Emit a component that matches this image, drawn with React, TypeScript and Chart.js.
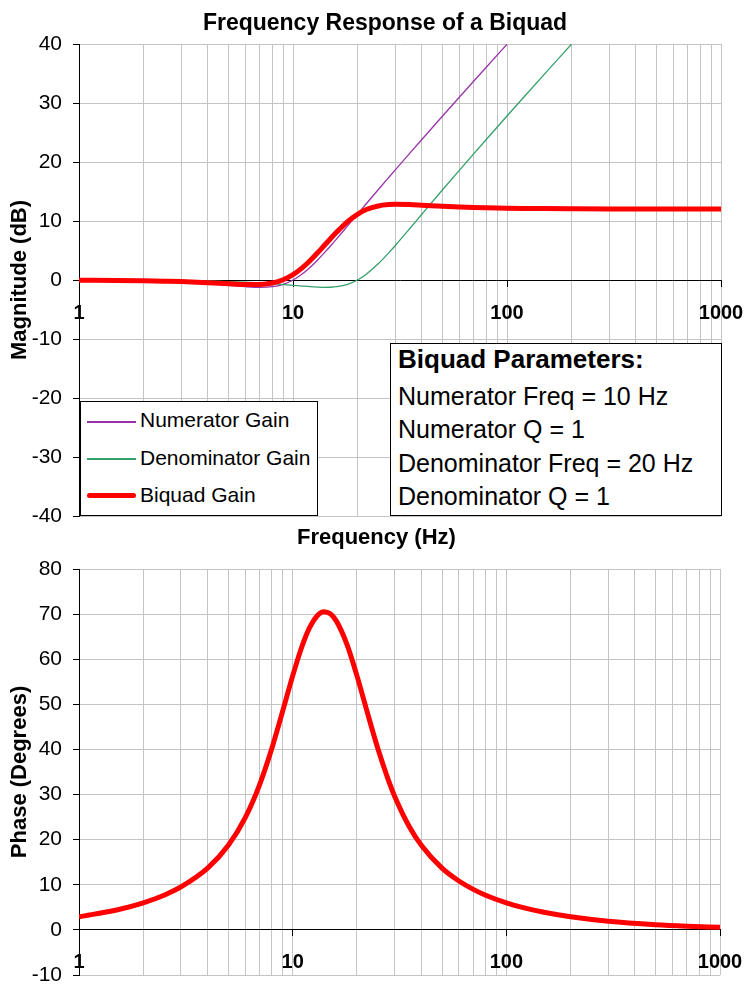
import React, { useEffect, useRef } from "react";
import { Chart, registerables } from "chart.js";

Chart.register(...registerables);

const FONT = "'Liberation Sans', Arial, Helvetica, sans-serif";

// ---- data ----
const frequencies = [1, 1.5, 2, 2.5, 3, 4, 5, 6, 7, 8, 9, 10, 11, 12, 13, 14, 15, 16, 18, 20, 22, 25, 28, 30, 35, 40, 50, 60, 70, 80, 100, 120, 150, 200, 300, 500, 700, 1000];

const numeratorGain = [-0.04, -0.1, -0.17, -0.26, -0.37, -0.63, -0.9, -1.14, -1.25, -1.14, -0.73, 0, 0.98, 2.13, 3.36, 4.6, 5.81, 6.98, 9.17, 11.14, 12.92, 15.29, 17.37, 18.63, 21.42, 23.82, 27.79, 31.01, 33.72, 36.06, 39.96, null, null, null, null, null, null, null];

const denominatorGain = [-0.01, -0.02, -0.04, -0.07, -0.1, -0.17, -0.26, -0.37, -0.49, -0.63, -0.77, -0.9, -1.03, -1.14, -1.21, -1.25, -1.23, -1.14, -0.73, 0, 0.98, 2.74, 4.6, 5.81, 8.64, 11.14, 15.29, 18.63, 21.42, 23.82, 27.79, 31.01, 34.93, 39.96, null, null, null, null];

const biquadGain = [-0.03, -0.07, -0.13, -0.2, -0.27, -0.46, -0.64, -0.77, -0.76, -0.51, 0.04, 0.9, 2.01, 3.27, 4.57, 5.85, 7.04, 8.12, 9.9, 11.14, 11.94, 12.55, 12.78, 12.82, 12.78, 12.68, 12.5, 12.37, 12.29, 12.24, 12.17, 12.13, 12.1, 12.07, 12.05, 12.05, 12.04, 12.04];

const biquadPhase = [2.9, 4.41, 6, 7.69, 9.53, 13.69, 18.76, 24.9, 32.17, 40.31, 48.65, 56.31, 62.55, 66.99, 69.57, 70.52, 70.07, 68.5, 63.14, 56.31, 49.38, 40.31, 33.3, 29.63, 23.03, 18.76, 13.69, 10.83, 8.98, 7.69, 6, 4.93, 3.9, 2.9, 1.92, 1.15, 0.82, 0.57];

const xGridValues = [1, 2, 3, 4, 5, 6, 7, 8, 9, 10, 20, 30, 40, 50, 60, 70, 80, 90, 100, 200, 300, 400, 500, 600, 700, 800, 900, 1000];
const xLabelValues = [1, 10, 100, 1000];
const magnitudeRange = [-40, 40];
const phaseRange = [-10, 80];
const yStep = 10;

const legendItems = ["Numerator Gain", "Denominator Gain", "Biquad Gain"];
const parameterTitle = "Biquad Parameters:";
const parameterLines = ["Numerator Freq = 10 Hz", "Numerator Q = 1", "Denominator Freq = 20 Hz", "Denominator Q = 1"];

const COLORS = { numerator: "#9933aa", denominator: "#33a06a", biquad: "#ff0000" };
const GRID = "#c4c4c4";

function toPoints(values: (number | null)[]) {
  const pts: { x: number; y: number }[] = [];
  frequencies.forEach((f, i) => {
    const v = values[i];
    if (v !== null && v !== undefined) pts.push({ x: f, y: v });
  });
  return pts;
}

function zeroPadding(s: any) {
  s.paddingLeft = 0;
  s.paddingRight = 0;
  s.paddingTop = 0;
  s.paddingBottom = 0;
}

function makeOptions(range: number[], yTitle: string, padding: any): any {
  return {
    animation: false,
    responsive: false,
    maintainAspectRatio: false,
    layout: { padding: { ...padding } },
    plugins: { legend: { display: false }, tooltip: { enabled: false }, title: { display: false } },
    elements: { point: { radius: 0 } },
    scales: {
      x: {
        type: "logarithmic",
        position: { y: 0 },
        min: 1,
        max: 1000,
        afterBuildTicks: (scale: any) => {
          scale.ticks = xGridValues.map((v) => ({ value: v, major: xLabelValues.includes(v) }));
        },
        afterFit: zeroPadding,
        ticks: {
          autoSkip: false,
          maxRotation: 0,
          minRotation: 0,
          padding: 15,
          color: "#000",
          font: { family: FONT, size: 20, weight: "bold" },
          callback: (value: any) => (xLabelValues.includes(Number(value)) ? String(value) : ""),
        },
        grid: {
          color: GRID,
          lineWidth: 1,
          drawTicks: true,
          tickLength: 6,
          tickColor: (ctx: any) =>
            ctx.tick && xLabelValues.includes(ctx.tick.value) ? "#000" : "rgba(0,0,0,0)",
        },
        border: { display: true, color: "#000", width: 1 },
      },
      y: {
        type: "linear",
        position: "left",
        min: range[0],
        max: range[1],
        afterFit: (s: any) => {
          s.width = 79;
          zeroPadding(s);
        },
        ticks: { stepSize: yStep, padding: 11, color: "#000", font: { family: FONT, size: 21 } },
        grid: { color: GRID, lineWidth: 1, tickColor: "#000", tickLength: 6 },
        border: { display: true, color: "#000", width: 1 },
        title: {
          display: true,
          text: yTitle,
          color: "#000",
          font: { family: FONT, size: 22, weight: "bold" },
          padding: { top: 7, bottom: 0 },
        },
      },
    },
  };
}

// nudge the layout padding until the plot area sits where the reference has it
function fitArea(chart: any, target: { left: number; top: number; right: number; bottom: number }) {
  for (let i = 0; i < 4; i++) {
    const a = chart.chartArea;
    const p = chart.options.layout.padding;
    const dl = target.left - a.left;
    const dt = target.top - a.top;
    const dr = a.right - target.right;
    const db = a.bottom - target.bottom;
    if (Math.abs(dl) < 0.5 && Math.abs(dt) < 0.5 && Math.abs(dr) < 0.5 && Math.abs(db) < 0.5) break;
    p.left = Math.max(0, p.left + dl);
    p.top = Math.max(0, p.top + dt);
    p.right = Math.max(0, p.right + dr);
    p.bottom = Math.max(0, p.bottom + db);
    chart.update();
  }
}

function baselineTop(baseline: number, size: number) {
  return baseline - 0.8465 * size;
}

export default function App() {
  const magRef = useRef<HTMLCanvasElement | null>(null);
  const phaseRef = useRef<HTMLCanvasElement | null>(null);

  useEffect(() => {
    if (!magRef.current || !phaseRef.current) return;
    const magChart = new Chart(magRef.current, {
      type: "line",
      data: {
        datasets: [
          {
            label: legendItems[2],
            data: toPoints(biquadGain),
            borderColor: COLORS.biquad,
            borderWidth: 5,
            order: 0,
            cubicInterpolationMode: "monotone",
            pointRadius: 0,
            fill: false,
          },
          {
            label: legendItems[1],
            data: toPoints(denominatorGain),
            borderColor: COLORS.denominator,
            borderWidth: 1.3,
            order: 1,
            cubicInterpolationMode: "monotone",
            pointRadius: 0,
            fill: false,
          },
          {
            label: legendItems[0],
            data: toPoints(numeratorGain),
            borderColor: COLORS.numerator,
            borderWidth: 1.3,
            order: 2,
            cubicInterpolationMode: "monotone",
            pointRadius: 0,
            fill: false,
          },
        ],
      },
      options: makeOptions(magnitudeRange, "Magnitude (dB)", { left: 0, right: 24, top: 44, bottom: 34 }),
    } as any);
    fitArea(magChart, { left: 79, top: 44, right: 721, bottom: 516 });

    const phaseChart = new Chart(phaseRef.current, {
      type: "line",
      data: {
        datasets: [
          {
            label: "Biquad Phase",
            data: toPoints(biquadPhase),
            borderColor: COLORS.biquad,
            borderWidth: 5,
            cubicInterpolationMode: "monotone",
            pointRadius: 0,
            fill: false,
          },
        ],
      },
      options: makeOptions(phaseRange, "Phase (Degrees)", { left: 0, right: 25, top: 19, bottom: 13 }),
    } as any);
    fitArea(phaseChart, { left: 79, top: 19, right: 720, bottom: 425 });

    return () => {
      magChart.destroy();
      phaseChart.destroy();
    };
  }, []);

  const legendSamples = [
    { color: COLORS.numerator, width: 1.5, center: 21, baseline: 26 },
    { color: COLORS.denominator, width: 1.5, center: 58, baseline: 64 },
    { color: COLORS.biquad, width: 5, center: 94, baseline: 101 },
  ];
  const paramBaselines = [61, 94, 128, 161];

  return (
    <div
      style={{
        position: "absolute",
        left: 0,
        top: 0,
        width: 745,
        height: 988,
        background: "#fff",
        fontFamily: FONT,
        color: "#000",
        overflow: "hidden",
      }}
    >
      <canvas ref={magRef} width={745} height={550} style={{ position: "absolute", left: 0, top: 0, display: "block" }} />
      <canvas ref={phaseRef} width={745} height={438} style={{ position: "absolute", left: 0, top: 550, display: "block" }} />

      <div
        style={{
          position: "absolute",
          left: 0,
          width: 770,
          textAlign: "center",
          top: baselineTop(30, 23),
          fontSize: 23,
          lineHeight: "23px",
          fontWeight: "bold",
          whiteSpace: "nowrap",
        }}
      >
        Frequency Response of a Biquad
      </div>

      <div
        style={{
          position: "absolute",
          left: 297,
          top: baselineTop(545, 22),
          fontSize: 22,
          lineHeight: "22px",
          fontWeight: "bold",
          whiteSpace: "nowrap",
        }}
      >
        Frequency (Hz)
      </div>

      {/* series legend */}
      <div
        style={{
          position: "absolute",
          left: 80,
          top: 401,
          width: 238,
          height: 115,
          boxSizing: "border-box",
          border: "1px solid #000",
          background: "#fff",
        }}
      >
        {legendItems.map((label, i) => {
          const s = legendSamples[i];
          return (
            <React.Fragment key={label}>
              <div
                style={{
                  position: "absolute",
                  left: 6,
                  width: 49,
                  top: s.center - 1 - s.width / 2,
                  height: s.width,
                  background: s.color,
                  borderRadius: s.width > 2 ? s.width / 2 : 0,
                }}
              />
              <div
                style={{
                  position: "absolute",
                  left: 59,
                  top: baselineTop(s.baseline - 1, 21),
                  fontSize: 21,
                  lineHeight: "21px",
                  whiteSpace: "nowrap",
                }}
              >
                {label}
              </div>
            </React.Fragment>
          );
        })}
      </div>

      {/* parameter box */}
      <div
        style={{
          position: "absolute",
          left: 390,
          top: 343,
          width: 332,
          height: 173,
          boxSizing: "border-box",
          border: "1px solid #000",
          background: "#fff",
        }}
      >
        <div
          style={{
            position: "absolute",
            left: 7,
            top: baselineTop(24, 26),
            fontSize: 26,
            lineHeight: "26px",
            fontWeight: "bold",
            whiteSpace: "nowrap",
          }}
        >
          {parameterTitle}
        </div>
        {parameterLines.map((line, i) => (
          <div
            key={line}
            style={{
              position: "absolute",
              left: 7,
              top: baselineTop(paramBaselines[i], 25),
              fontSize: 25,
              lineHeight: "25px",
              whiteSpace: "nowrap",
            }}
          >
            {line}
          </div>
        ))}
      </div>
    </div>
  );
}
